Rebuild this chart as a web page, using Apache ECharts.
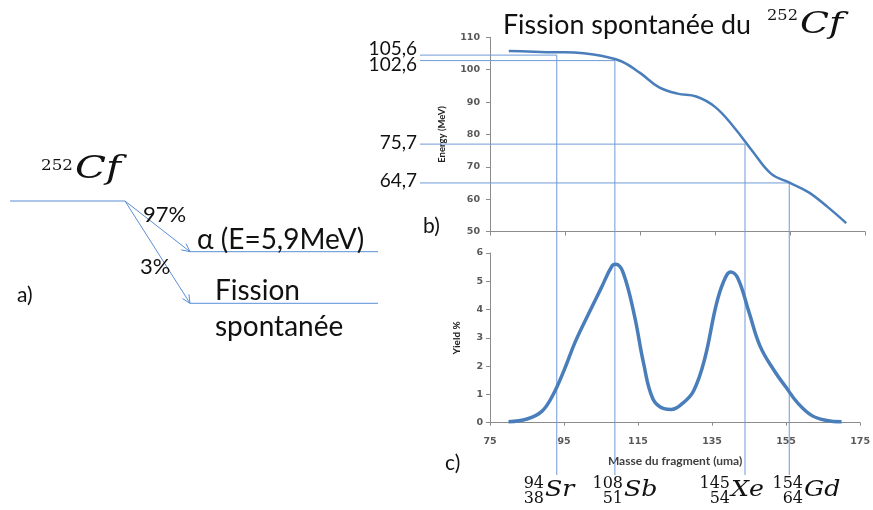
<!DOCTYPE html>
<html><head><meta charset="utf-8">
<script src="https://cdn.jsdelivr.net/npm/echarts@6/dist/echarts.min.js"></script>
<style>html,body{margin:0;padding:0;background:#fff}#c{width:873px;height:510px}</style>
</head><body><div id="c"></div>
<script>
// ---- data ----
const massTicks = [75, 95, 115, 135, 155, 175];
const energyTicks = [50, 60, 70, 80, 90, 100, 110];
const yieldTicks = [0, 1, 2, 3, 4, 5, 6];

const energyMass   = [80, 85, 90, 95, 100, 105, 110, 115, 120, 125, 130, 135, 140, 145, 150, 155, 160, 165, 170];
const energyValues = [105.8, 105.6, 105.4, 105.4, 105.1, 104.2, 102.6, 99.0, 94.6, 92.6, 91.7, 88.5, 82.3, 74.8, 67.8, 65.0, 62.1, 57.6, 52.6];

const yieldMass   = [80, 85, 89, 92, 95, 98, 102, 105, 108, 109, 111, 114, 116.5, 119, 122, 124, 127, 130, 133, 136, 138, 140, 142, 145, 148, 152, 155, 158, 162, 166, 170];
const yieldValues = [0.03, 0.13, 0.4, 0.98, 1.85, 2.85, 3.95, 4.75, 5.55, 5.6, 5.3, 3.8, 2.1, 0.85, 0.5, 0.47, 0.68, 1.12, 2.25, 4.1, 4.95, 5.33, 5.1, 3.9, 2.7, 1.8, 1.25, 0.72, 0.25, 0.08, 0.03];

const refMass   = [92.8, 108.3, 143.0, 154.8];
const refEnergy = [104.5, 102.8, 77.0, 65.0];
const refLabels = ['105,6', '102,6', '75,7', '64,7'];

const isoA   = ['94', '108', '145', '154'];
const isoZ   = ['38', '51', '54', '64'];
const isoSym = ['Sr', 'Sb', 'Xe', 'Gd'];

const titleText = 'Fission spontanée du';
const nuclideA = '252';
const nuclideSym = 'Cf';
const branchLabels = ['97%', '3%'];
const branchNames = ['α (E=5,9MeV)', 'Fission', 'spontanée'];
const panelLabels = ['a)', 'b)', 'c)'];

// ---- chart ----
const chart = echarts.init(document.getElementById('c'), null, {renderer: 'canvas'});
const axisCol = '#8c8c8c';
const labCol = '#595959';
const curveCol = '#4a7ebb';
const refCol = '#6f9bd6';
const SANS = 'Lato, "Open Sans", sans-serif';
const TICK = '"DejaVu Sans", sans-serif';
const MATH = '"DejaVu Serif", serif';

const pairs = (xs, ys) => xs.map((x, i) => [x, ys[i]]);
const tickLabel = {color: labCol, fontSize: 9.5, fontWeight: 'bold', fontFamily: TICK};

const option = {
  animation: false,
  backgroundColor: '#fff',
  grid: [
    {left: 490, top: 37.3, width: 375, height: 194.2},
    {left: 490, top: 253, width: 375, height: 169.7}
  ],
  xAxis: [
    {gridIndex: 0, type: 'value', min: massTicks[0], max: massTicks[massTicks.length - 1], interval: massTicks[1] - massTicks[0],
     axisLine: {lineStyle: {color: axisCol}}, axisTick: {show: true, length: 4, lineStyle: {color: axisCol}},
     axisLabel: {show: false}, splitLine: {show: false}},
    {gridIndex: 1, type: 'value', min: massTicks[0], max: massTicks[massTicks.length - 1], interval: massTicks[1] - massTicks[0],
     axisLine: {lineStyle: {color: axisCol}}, axisTick: {show: true, length: 3, lineStyle: {color: axisCol}},
     axisLabel: Object.assign({margin: 14}, tickLabel),
     splitLine: {show: false},
     name: 'Masse du fragment (uma)', nameLocation: 'middle', nameGap: 32,
     nameTextStyle: {color: '#404040', fontSize: 12, fontWeight: 'bold', fontFamily: SANS}}
  ],
  yAxis: [
    {gridIndex: 0, type: 'value', min: energyTicks[0], max: energyTicks[energyTicks.length - 1], interval: energyTicks[1] - energyTicks[0],
     axisLine: {show: true, lineStyle: {color: axisCol}}, axisTick: {show: true, length: 4, lineStyle: {color: axisCol}},
     axisLabel: Object.assign({margin: 10}, tickLabel),
     splitLine: {show: false},
     name: 'Energy (MeV)', nameLocation: 'middle', nameGap: 43, nameRotate: 90,
     nameTextStyle: {color: '#222', fontSize: 9.5, fontWeight: 'bold', fontFamily: SANS}},
    {gridIndex: 1, type: 'value', min: yieldTicks[0], max: yieldTicks[yieldTicks.length - 1], interval: yieldTicks[1] - yieldTicks[0],
     axisLine: {show: true, lineStyle: {color: axisCol}}, axisTick: {show: true, length: 4, lineStyle: {color: axisCol}},
     axisLabel: Object.assign({margin: 7}, tickLabel),
     splitLine: {show: false},
     name: 'Yield %', nameLocation: 'middle', nameGap: 28, nameRotate: 90,
     nameTextStyle: {color: '#222', fontSize: 10, fontWeight: 'bold', fontFamily: SANS}}
  ],
  series: [
    {type: 'line', xAxisIndex: 0, yAxisIndex: 0, data: pairs(energyMass, energyValues), smooth: 0.4,
     showSymbol: false, lineStyle: {color: curveCol, width: 2.5}, z: 5},
    {type: 'line', xAxisIndex: 1, yAxisIndex: 1, data: pairs(yieldMass, yieldValues), smooth: 0.4,
     showSymbol: false, lineStyle: {color: curveCol, width: 3.5}, z: 5}
  ]
};
chart.setOption(option);

// ---- annotations ----
const g = [];
const mctx = document.createElement('canvas').getContext('2d');
function measure(str, st) {
  mctx.font = (st.fontStyle || 'normal') + ' ' + (st.fontWeight || 'normal') + ' ' + st.fontSize + 'px ' + st.fontFamily;
  return mctx.measureText(str).width;
}
function line(x1, y1, x2, y2, color, w) {
  g.push({type: 'line', silent: true, z: 1, shape: {x1, y1, x2, y2}, style: {stroke: color, lineWidth: w}});
}
// text; if width given, stretch horizontally to that width
function text(x, y, str, st, width) {
  const style = Object.assign({text: str, fill: '#111', fontFamily: SANS, fontSize: 20, align: 'left', verticalAlign: 'middle'}, st);
  const el = {type: 'text', x, y, silent: true, z: 10, style};
  if (width) el.scaleX = width / measure(str, style);
  g.push(el);
}
function arrow(x1, y1, x2, y2, color) {
  line(x1, y1, x2, y2, color, 1);
  const a = Math.atan2(y2 - y1, x2 - x1), L = 9, s = 0.45;
  line(x2, y2, x2 - L * Math.cos(a - s), y2 - L * Math.sin(a - s), color, 1);
  line(x2, y2, x2 - L * Math.cos(a + s), y2 - L * Math.sin(a + s), color, 1);
}

// reference lines from the energy curve
const labelY = [48.5, 65, 143, 181];
refMass.forEach((m, i) => {
  const p = chart.convertToPixel({gridIndex: 0}, [m, refEnergy[i]]);
  line(420, p[1], p[0], p[1], refCol, 1);
  line(p[0], p[1], p[0], 475, refCol, 1);
  text(417, labelY[i], refLabels[i], {align: 'right', fontSize: 19});
});

// title
text(503, 25.5, titleText, {fontSize: 27}, 248);
text(798, 16, nuclideA, {align: 'right', fontSize: 14, fontFamily: MATH}, 31);
text(800, 25, nuclideSym, {fontSize: 30, fontStyle: 'italic', fontFamily: MATH}, 43);

// panel a diagram
const dcol = '#5b8fd6';
line(10, 201, 125, 201, dcol, 1);
arrow(125, 201, 190, 251.7, dcol);
arrow(125, 201, 190, 303.3, dcol);
line(190, 251.7, 378, 251.7, dcol, 1);
line(190, 303.3, 378, 303.3, dcol, 1);
text(73, 166, nuclideA, {align: 'right', fontSize: 14, fontFamily: MATH}, 32);
text(75, 170, nuclideSym, {fontSize: 31, fontStyle: 'italic', fontFamily: MATH}, 46);
text(143, 214.5, branchLabels[0], {fontSize: 22});
text(140, 266.5, branchLabels[1], {fontSize: 22});
text(197, 240, branchNames[0], {fontSize: 28});
text(215, 291, branchNames[1], {fontSize: 28});
text(215, 327, branchNames[2], {fontSize: 28});
text(17, 295, panelLabels[0], {fontSize: 21});
text(423, 226, panelLabels[1], {fontSize: 21});
text(445, 463, panelLabels[2], {fontSize: 21});

// isotope labels
const isoX = [545, 624, 731, 804];
isoSym.forEach((s, i) => {
  text(isoX[i] - 1, 484, isoA[i], {align: 'right', fontSize: 16, fontFamily: MATH});
  text(isoX[i] - 1, 499, isoZ[i], {align: 'right', fontSize: 16, fontFamily: MATH});
  const st = {fontSize: 23, fontStyle: 'italic', fontFamily: MATH};
  text(isoX[i], 490, s, st, measure(s, st) * 1.1);
});

chart.setOption({graphic: {elements: g}});
</script>
</body></html>
